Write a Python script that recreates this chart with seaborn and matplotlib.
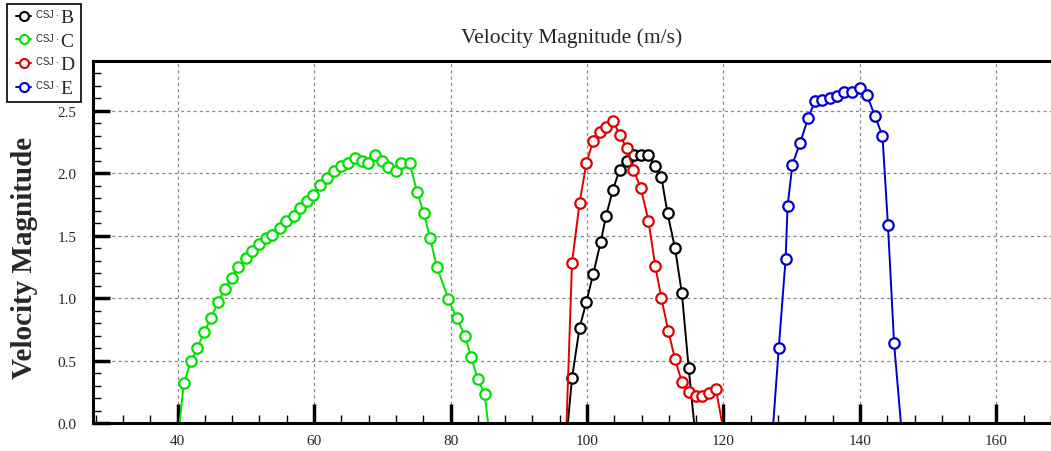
import pandas as pd
import matplotlib.pyplot as plt
import seaborn as sns
from matplotlib.ticker import MultipleLocator
from matplotlib.legend_handler import HandlerLine2D

# -----------------------
# DATA
# -----------------------
b_x = [97.2, 97.8, 98.9, 99.9, 100.9, 102.0, 102.8, 103.8, 104.8, 105.8, 106.9,
       107.9, 108.9, 110.0, 110.9, 111.8, 112.9, 113.9, 114.9, 115.7]
b_y = [0.0, 0.36, 0.76, 0.97, 1.19, 1.45, 1.66, 1.87, 2.03, 2.10, 2.15,
       2.15, 2.15, 2.06, 1.97, 1.68, 1.40, 1.04, 0.44, 0.0]

c_x = [40.3, 40.9, 42.0, 42.9, 43.9, 44.9, 45.9, 46.9, 47.9, 48.9, 50.0, 50.9,
       52.0, 52.9, 53.9, 55.0, 55.9, 57.0, 57.9, 58.9, 59.9, 60.9, 61.9, 62.9,
       63.9, 64.9, 66.0, 67.0, 67.9, 68.9, 69.9, 70.9, 72.0, 72.8, 74.0, 75.1,
       76.1, 77.0, 78.0, 79.7, 80.9, 82.1, 83.0, 84.0, 85.0, 85.5]
c_y = [0.0, 0.32, 0.50, 0.60, 0.73, 0.84, 0.97, 1.07, 1.16, 1.25, 1.32, 1.38,
       1.43, 1.48, 1.51, 1.56, 1.62, 1.66, 1.72, 1.78, 1.83, 1.91, 1.96, 2.02,
       2.06, 2.08, 2.12, 2.10, 2.08, 2.15, 2.10, 2.05, 2.02, 2.08, 2.08, 1.85,
       1.68, 1.48, 1.25, 0.99, 0.84, 0.70, 0.53, 0.35, 0.23, 0.0]

d_x = [97.0, 97.8, 98.9, 99.9, 100.9, 101.9, 102.8, 103.8, 104.8, 105.8, 106.8,
       107.9, 109.0, 110.0, 110.9, 111.9, 112.9, 113.9, 114.9, 115.9, 116.9,
       117.9, 118.9, 119.8]
d_y = [0.0, 1.28, 1.76, 2.08, 2.26, 2.33, 2.37, 2.42, 2.31, 2.20, 2.03,
       1.88, 1.62, 1.26, 1.00, 0.74, 0.51, 0.33, 0.25, 0.22, 0.22,
       0.24, 0.27, 0.0]

e_x = [127.3, 128.1, 129.1, 129.4, 130.1, 131.2, 132.4, 133.4, 134.5, 135.6,
       136.7, 137.7, 138.9, 140.0, 141.0, 142.2, 143.3, 144.1, 145.0, 146.0]
e_y = [0.0, 0.60, 1.31, 1.74, 2.07, 2.24, 2.44, 2.58, 2.59, 2.60,
       2.62, 2.65, 2.65, 2.68, 2.63, 2.46, 2.30, 1.59, 0.64, 0.0]

series_names = ["B", "C", "D", "E"]
series_colors = ["#000000", "#00e000", "#e00000", "#0000cc"]


class MarkerLeft(HandlerLine2D):
    # legend key drawn as "o—" : marker on the left, line trailing right
    def get_xdata(self, legend, xdescent, ydescent, width, height, fontsize):
        x0 = -xdescent + 0.2 * width
        return [x0, -xdescent + width], [x0]


# -----------------------
# STYLE
# -----------------------
sns.set_theme(style="ticks")
plt.rcParams['font.family'] = ['Liberation Serif', 'DejaVu Serif']
plt.rcParams['mathtext.fontset'] = 'custom'
plt.rcParams['mathtext.rm'] = 'Liberation Sans'

fig = plt.figure(figsize=(10.51, 4.52), dpi=100)
ax = fig.add_axes([93 / 1051, 1 - 424 / 452, 1 - 93 / 1051, (424 - 62) / 452])

data = [(b_x, b_y), (c_x, c_y), (d_x, d_y), (e_x, e_y)]
for name, color, (xs, ys) in zip(series_names, series_colors, data):
    df = pd.DataFrame({'x': xs, 'y': ys})
    # end points only anchor the line on the axis, no marker drawn there
    sns.lineplot(data=df, x='x', y='y', ax=ax, color=color, lw=1.4,
                 sort=False, estimator=None, label=name)
    sns.lineplot(data=df.iloc[1:-1], x='x', y='y', ax=ax, color=color,
                 lw=0, marker='o', markersize=7.5, markerfacecolor='white',
                 markeredgecolor=color, markeredgewidth=1.6,
                 sort=False, estimator=None)

ax.set_xlim(27.6, 168)
ax.set_ylim(0, 2.9)
ax.xaxis.set_major_locator(MultipleLocator(20))
ax.xaxis.set_minor_locator(MultipleLocator(4))
ax.yaxis.set_major_locator(MultipleLocator(0.5))
ax.yaxis.set_minor_locator(MultipleLocator(0.1))
ax.yaxis.set_major_formatter(plt.FormatStrFormatter('%.1f'))

ax.tick_params(which='major', direction='in', length=12, width=2.5,
               labelsize=11, color='black')
ax.tick_params(axis='y', which='major', pad=12)
ax.tick_params(axis='x', which='major', pad=8, length=14)
ax.tick_params(which='minor', direction='in', length=6, width=1, color='black')

ax.grid(True, which='major', color='#888888', ls=(0, (2.5, 2.5)), lw=0.9)

for side in ['left', 'bottom', 'top']:
    ax.spines[side].set_linewidth(2.2)
    ax.spines[side].set_color('black')
ax.spines['right'].set_visible(False)

ax.set_title("Velocity Magnitude (m/s)", fontsize=15.5, pad=14)
ax.set_xlabel("")
ax.set_ylabel("Velocity Magnitude", fontsize=21, fontweight='bold')
ax.yaxis.set_label_coords(-0.057, 0.46)

# legend in the top left corner of the figure
proxies = []
for color in series_colors:
    proxies.append(plt.Line2D([], [], color=color, lw=1.4, marker='o',
                              markersize=6.5, markerfacecolor='white',
                              markeredgecolor=color, markeredgewidth=1.5))
leg_labels = [r"${}^{{}_{\mathrm{CSJ\cdot}}}$" + n for n in series_names]
ax.get_legend().remove()
leg = fig.legend(proxies, leg_labels, loc='upper left',
                 bbox_to_anchor=(7 / 1051, 1 - 5 / 452), fontsize=14,
                 frameon=True, fancybox=False, edgecolor='black',
                 framealpha=1, borderpad=0.25, labelspacing=0.3,
                 handlelength=1.0, handletextpad=0.2, numpoints=1,
                 borderaxespad=0, handler_map={plt.Line2D: MarkerLeft()})
leg.get_frame().set_linewidth(1.2)
leg.set_zorder(10)

fig.savefig("out.png", dpi=100)
